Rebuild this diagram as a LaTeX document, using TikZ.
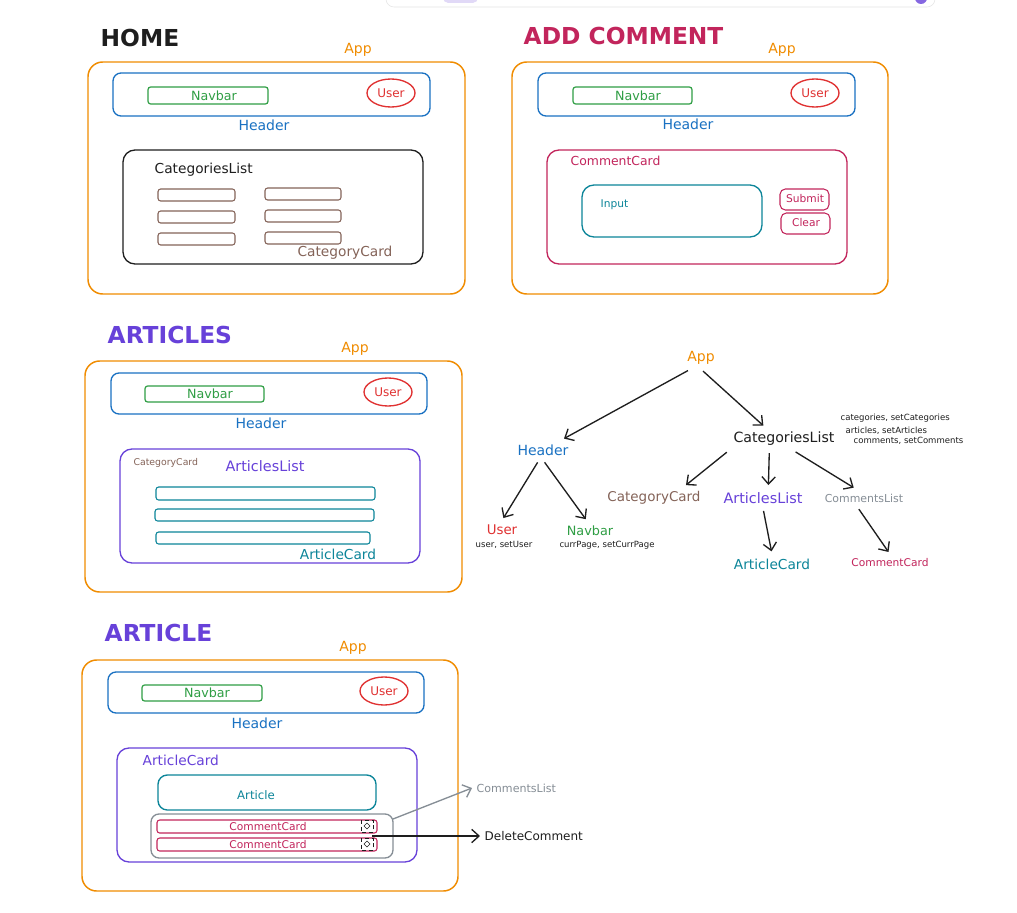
\documentclass[tikz,border=0pt]{standalone}
\usepackage{fontspec}
\setmainfont{DejaVu Sans}
\usetikzlibrary{arrows.meta,shapes.geometric}

\definecolor{apporange}{HTML}{F08C00}
\definecolor{hdrblue}{HTML}{1971C2}
\definecolor{navgreen}{HTML}{2F9E44}
\definecolor{userred}{HTML}{E03131}
\definecolor{inkblack}{HTML}{1E1E1E}
\definecolor{catbrown}{HTML}{846358}
\definecolor{cmtcrimson}{HTML}{C2255C}
\definecolor{artteal}{HTML}{0C8599}
\definecolor{listpurple}{HTML}{6741D9}
\definecolor{listgray}{HTML}{868E96}

\begin{document}
\begin{tikzpicture}[x=0.75pt,y=-0.75pt,>={Straight Barb[length=5.5pt,width=10pt]},
  appbox/.style={draw=apporange,line width=1.1pt,rounded corners=11pt},
  hdrbox/.style={draw=hdrblue,line width=1pt,rounded corners=6pt},
  navbox/.style={draw=navgreen,line width=0.9pt,rounded corners=2pt},
  innerbox/.style={line width=1pt,rounded corners=9pt},
  cardbox/.style={line width=0.8pt,rounded corners=2pt},
  userell/.style={ellipse,draw=userred,line width=1pt,text=userred,
    minimum width=36pt,minimum height=21pt,inner sep=0pt,font=\fontsize{9}{10}\selectfont},
  title/.style={anchor=west,font=\fontsize{17.5}{20}\selectfont\bfseries},
  applbl/.style={text=apporange,font=\fontsize{10.5}{13}\selectfont},
  hdrlbl/.style={text=hdrblue,font=\fontsize{10.5}{13}\selectfont},
  navlbl/.style={text=navgreen,font=\fontsize{9.5}{11}\selectfont},
  lbl/.style={font=\fontsize{10.3}{12}\selectfont},
  smalllbl/.style={font=\fontsize{8}{9}\selectfont},
  note/.style={text=inkblack,font=\fontsize{6.4}{7}\selectfont,inner sep=1pt},
  tarrow/.style={->,draw=inkblack,line width=1pt,shorten <=2pt,shorten >=2pt}]
\useasboundingbox (0,0) rectangle (1017,913);
\fill[white] (0,0) rectangle (1017,913);

% toolbar edge at the top
\draw[black!10,fill=white,rounded corners=6pt] (386,-20) rectangle (935,7);
\fill[listpurple!20,rounded corners=4pt] (443,-10) rectangle (478,3);
\fill[listpurple!80] (921,-2) circle [radius=6];

% HOME
\node[title,text=inkblack] (home-title) at (96,38) {HOME};
\node[applbl] (home-app) at (358,50) {App};
\draw[appbox] (88,62) rectangle (465,294);
\draw[hdrbox] (113,73) rectangle (430,116);
\draw[navbox] (148,87) rectangle (268,104);
\node[navlbl] (home-nav) at (214,96) {Navbar};
\node[userell] (home-user) at (391,93) {User};
\node[hdrlbl] (home-hdr) at (264,125) {Header};
\draw[innerbox,draw=inkblack] (123,150) rectangle (423,264);
\node[lbl,anchor=west,text=inkblack] (home-cl) at (150,170) {CategoriesList};
\foreach \y in {189,211,233}
  \draw[cardbox,draw=catbrown] (158,\y) rectangle (235,\y+12);
\foreach \y in {188,210,232}
  \draw[cardbox,draw=catbrown] (265,\y) rectangle (341,\y+12);
\node[lbl,text=catbrown] (home-cc) at (345,253) {CategoryCard};

% ADD COMMENT
\node[title,text=cmtcrimson] (add-title) at (519,36) {ADD COMMENT};
\node[applbl] (add-app) at (782,50) {App};
\draw[appbox] (512,62) rectangle (888,294);
\draw[hdrbox] (538,73) rectangle (855,116);
\draw[navbox] (573,87) rectangle (692,104);
\node[navlbl] (add-nav) at (638,96) {Navbar};
\node[userell] (add-user) at (815,93) {User};
\node[hdrlbl] (add-hdr) at (688,124) {Header};
\draw[innerbox,draw=cmtcrimson] (547,150) rectangle (847,264);
\node[lbl,anchor=west,text=cmtcrimson,font=\fontsize{9.3}{11}\selectfont] (add-cc) at (566,161) {CommentCard};
\draw[innerbox,draw=artteal] (582,185) rectangle (762,237);
\node[smalllbl,anchor=west,text=artteal] (add-input) at (596,205) {Input};
\draw[cardbox,draw=cmtcrimson,rounded corners=4pt] (780,189) rectangle (829,210);
\node[smalllbl,text=cmtcrimson] (add-submit) at (805,199) {Submit};
\draw[cardbox,draw=cmtcrimson,rounded corners=4pt] (781,213) rectangle (830,234);
\node[smalllbl,text=cmtcrimson] (add-clear) at (806,223) {Clear};

% ARTICLES
\node[title,text=listpurple] (arts-title) at (103,335) {ARTICLES};
\node[applbl] (arts-app) at (355,349) {App};
\draw[appbox] (85,361) rectangle (462,592);
\draw[hdrbox] (111,373) rectangle (427,414);
\draw[navbox] (145,386) rectangle (264,402);
\node[navlbl] (arts-nav) at (210,394) {Navbar};
\node[userell] (arts-user) at (388,392) {User};
\node[hdrlbl] (arts-hdr) at (261,423) {Header};
\draw[innerbox,draw=listpurple] (120,449) rectangle (420,563);
\node[note,anchor=west,text=catbrown,font=\fontsize{7}{8}\selectfont] (arts-cc) at (132,463) {CategoryCard};
\node[lbl,text=listpurple,font=\fontsize{10.8}{12}\selectfont] (arts-al) at (265,466) {ArticlesList};
\draw[cardbox,draw=artteal] (156,487) rectangle (375,500);
\draw[cardbox,draw=artteal] (155,509) rectangle (374,521);
\draw[cardbox,draw=artteal] (156,532) rectangle (370,544);
\node[lbl,text=artteal] (arts-ac) at (338,554) {ArticleCard};

% ARTICLE
\node[title,text=listpurple] (art-title) at (100,633) {ARTICLE};
\node[applbl] (art-app) at (353,648) {App};
\draw[appbox] (82,660) rectangle (458,891);
\draw[hdrbox] (108,672) rectangle (424,713);
\draw[navbox] (142,685) rectangle (262,701);
\node[navlbl] (art-nav) at (207,693) {Navbar};
\node[userell] (art-user) at (384,691) {User};
\node[hdrlbl] (art-hdr) at (257,723) {Header};
\draw[innerbox,draw=listpurple] (117,748) rectangle (417,862);
\node[lbl,anchor=west,text=listpurple] (art-ac) at (138,760) {ArticleCard};
\draw[innerbox,draw=artteal,rounded corners=7pt] (158,775) rectangle (376,810);
\node[smalllbl,text=artteal,font=\fontsize{8.8}{10}\selectfont] (art-article) at (256,795) {Article};
\draw[draw=listgray,line width=1pt,rounded corners=6pt] (151,814) rectangle (393,858);
\foreach \y/\n in {820/1,838/2} {
  \draw[cardbox,draw=cmtcrimson] (157,\y) rectangle (377,\y+13);
  \node[smalllbl,text=cmtcrimson,inner sep=0pt] (art-cmt\n) at (268,\y+7) {CommentCard};
  \draw[densely dashed,draw=inkblack,line width=0.5pt] (361,\y) rectangle (373,\y+12);
  \draw[draw=inkblack,line width=0.5pt] (367,\y+3) -- (370,\y+6) -- (367,\y+9) -- (364,\y+6) -- cycle;
}
\coordinate (art-cl-start) at (393,819);
\coordinate (art-del-start) at (372,836);
\node[smalllbl,anchor=west,text=listgray,font=\fontsize{8.3}{9}\selectfont] (art-cl) at (472,788) {CommentsList};
\node[lbl,anchor=west,text=inkblack,font=\fontsize{9}{10}\selectfont] (art-del) at (480,836) {DeleteComment};
\draw[->,draw=listgray,line width=1pt] (art-cl-start) -- (art-cl.west);
\draw[->,draw=inkblack,line width=1pt] (art-del-start) -- (art-del.west);

% component tree
\node[applbl] (tree-app) at (701,358) {App};
\node[hdrlbl] (tree-hdr) at (543,450) {Header};
\node[lbl,text=inkblack,font=\fontsize{10.6}{12}\selectfont] (tree-cl) at (784,439) {CategoriesList};
\node[lbl,text=userred,font=\fontsize{10}{12}\selectfont] (tree-user) at (502,530) {User};
\node[note] (tree-user-note) at (504,545) {user, setUser};
\node[lbl,text=navgreen,font=\fontsize{9.6}{11}\selectfont] (tree-nav) at (590,531) {Navbar};
\node[note] (tree-nav-note) at (607,545) {currPage, setCurrPage};
\node[lbl,text=catbrown,font=\fontsize{10.1}{12}\selectfont] (tree-cc) at (654,498) {CategoryCard};
\node[lbl,text=listpurple,font=\fontsize{10.8}{12}\selectfont] (tree-al) at (763,498) {ArticlesList};
\node[smalllbl,text=listgray,font=\fontsize{8.2}{9}\selectfont] (tree-cml) at (864,498) {CommentsList};
\node[lbl,text=artteal] (tree-ac) at (772,564) {ArticleCard};
\node[smalllbl,text=cmtcrimson] (tree-cmc) at (890,563) {CommentCard};
\node[note,anchor=west] (tree-note1) at (839,418) {categories, setCategories};
\node[note,anchor=west] (tree-note2) at (844,431) {articles, setArticles};
\node[note,anchor=west] (tree-note3) at (852,441) {comments, setComments};

\draw[tarrow] ([xshift=-8pt]tree-app.south) -- ([xshift=14pt]tree-hdr.north);
\draw[tarrow] (tree-app.south) -- ([xshift=-14pt]tree-cl.north);
\draw[tarrow] ([xshift=-3pt]tree-hdr.south) -- (tree-user.north);
\draw[tarrow] (tree-hdr.south) -- ([xshift=-2pt]tree-nav.north);
\draw[tarrow] (tree-cl.south west) -- ([xshift=-16pt]tree-cc.north east);
\draw[tarrow] ([xshift=-11pt]tree-cl.south) -- ([xshift=4pt]tree-al.north);
\draw[tarrow] ([xshift=7pt]tree-cl.south) -- ([xshift=-6pt]tree-cml.north);
\draw[tarrow] (tree-al.south) -- (tree-ac.north);
\draw[tarrow] ([xshift=-5pt]tree-cml.south) -- (tree-cmc.north);
\end{tikzpicture}
\end{document}
